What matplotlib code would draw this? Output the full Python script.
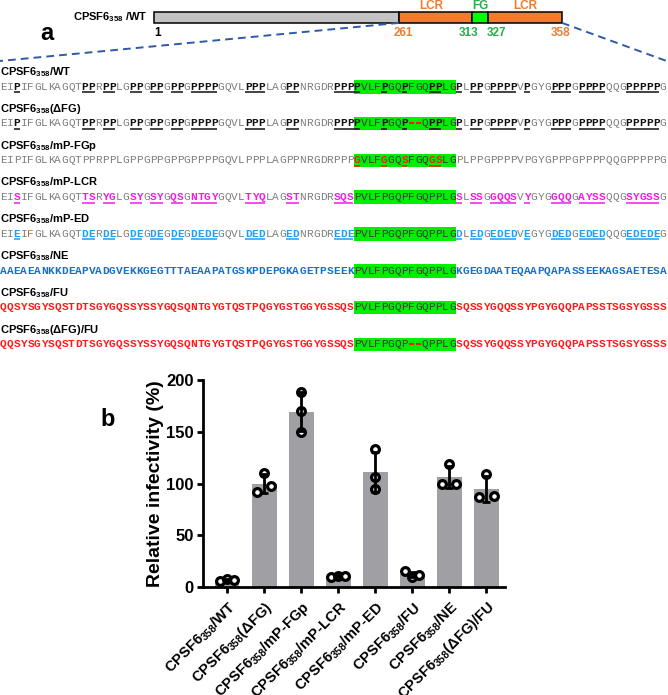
import numpy as np
import matplotlib
matplotlib.use("Agg")
import matplotlib.pyplot as plt
from matplotlib.patches import Rectangle

plt.rcParams['font.family'] = ['Liberation Sans', 'DejaVu Sans']

W, H, DPI = 668, 695, 100

# ---------------- data ----------------
domain_residues = [1, 261, 313, 327, 358]
domain_names = ['', 'LCR', 'FG', 'LCR']
seq_start_residue = 261

row_suffixes = ['/WT', '(ΔFG)', '/mP-FGp', '/mP-LCR', '/mP-ED', '/NE', '/FU', '(ΔFG)/FU']
row_sequences = [
    "EIPIFGLKAGQTPPRPPLGPPGPPGPPGPPPPGQVLPPPLAGPPNRGDRPPP" "PVLFPGQPFGQPPLG" "PLPPGPPPPVPGYGPPPGPPPPQQGPPPPPG",
    "EIPIFGLKAGQTPPRPPLGPPGPPGPPGPPPPGQVLPPPLAGPPNRGDRPPP" "PVLFPGQP--QPPLG" "PLPPGPPPPVPGYGPPPGPPPPQQGPPPPPG",
    "EIPIFGLKAGQTPPRPPLGPPGPPGPPGPPPPGQVLPPPLAGPPNRGDRPPP" "GVLFGGQSFGQGSLG" "PLPPGPPPPVPGYGPPPGPPPPQQGPPPPPG",
    "EISIFGLKAGQTTSRYGLGSYGSYGQSGNTGYGQVLTYQLAGSTNRGDRSQS" "PVLFPGQPFGQPPLG" "SLSSGGQQSVYGYGGQQGAYSSQQGSYGSSG",
    "EIEIFGLKAGQTDERDELGDEGDEGDEGDEDEGQVLDEDLAGEDNRGDREDE" "PVLFPGQPFGQPPLG" "DLEDGEDEDVEGYGDEDGEDEDQQGEDEDEG",
    "AAEAEANKKDEAPVADGVEKKGEGTTTAEAAPATGSKPDEPGKAGETPSEEK" "PVLFPGQPFGQPPLG" "KGEGDAATEQAAPQAPASSEEKAGSAETESA",
    "QQSYSGYSQSTDTSGYGQSSYSSYGQSQNTGYGTQSTPQGYGSTGGYGSSQS" "PVLFPGQPFGQPPLG" "SQSSYGQQSSYPGYGQQPAPSSTSGSYGSSS",
    "QQSYSGYSQSTDTSGYGQSSYSSYGQSQNTGYGTQSTPQGYGSTGGYGSSQS" "PVLFPGQP--QPPLG" "SQSSYGQQSSYPGYGQQPAPSSTSGSYGSSS",
]
row_modes = ['wt', 'wt', 'mut', 'mut', 'mut', 'full', 'full', 'full']
row_colors = ['#111111', '#111111', '#ff1a1a', '#ee1ee6', '#1e9ef5', '#1a6fc4', '#ff1a1a', '#ff1a1a']

bar_suffixes = ['/WT', '(ΔFG)', '/mP-FGp', '/mP-LCR', '/mP-ED', '/FU', '/NE', '(ΔFG)/FU']
replicates_pct = [
    [6, 8, 7],
    [92, 110, 98],
    [188, 170, 150],
    [10, 11, 11],
    [133, 106, 95],
    [15, 10, 12],
    [100, 119, 100],
    [87, 109, 88],
]
y_ticks = [0, 50, 100, 150, 200]

# ---------------- layout / style ----------------
ORANGE = '#ee7d31'
GREEN_TXT = '#1fb24a'
GREEN_BOX = '#00ee00'
GRAY_TXT = '#7d7d7d'
DARK_TXT = '#3a3a3a'
DASH_RED = '#ff1a1a'
SCHEM_KNOTS = [154, 399, 472, 488, 562]


def cpsf(suffix):
    return 'CPSF6$_{\\mathdefault{358}}$' + suffix


fig = plt.figure(figsize=(W / DPI, H / DPI), dpi=DPI)
ov = fig.add_axes([0, 0, 1, 1])
ov.set_xlim(0, W)
ov.set_ylim(H, 0)
ov.axis('off')

# ---- schematic ----
def sx(r):
    return float(np.interp(r, domain_residues, SCHEM_KNOTS))

box_top, box_bot = 11.7, 22.9
fills = ['#c3c3c3', ORANGE, '#00ff00', ORANGE]
for k in range(len(domain_names)):
    x0, x1 = sx(domain_residues[k]), sx(domain_residues[k + 1])
    ov.add_patch(Rectangle((x0, box_top), x1 - x0, box_bot - box_top,
                           fc=fills[k], ec='black', lw=1.1, zorder=2))
    if domain_names[k]:
        col = GREEN_TXT if domain_names[k] == 'FG' else ORANGE
        ov.text((x0 + x1) / 2 - (4 if domain_names[k] == 'LCR' and k == 1 else 0), 5.8,
                domain_names[k], color=col, ha='center', va='center',
                fontsize=8.5, fontweight='bold')

num_colors = ['black', ORANGE, GREEN_TXT, GREEN_TXT, ORANGE]
num_shift = [0, 4, -3, 9, -1.5]
for r, c, s in zip(domain_residues, num_colors, num_shift):
    ha = 'left' if r == 1 else 'center'
    ov.text(sx(r) + s, 32.5, str(r), color=c, ha=ha, va='center',
            fontsize=8.5, fontweight='bold')

ov.text(148, 17.3, 'CPSF6$_{\\mathdefault{358}}$ /WT', ha='right', va='center',
        fontsize=8, fontweight='bold')
ov.text(47, 33.5, 'a', ha='center', va='center', fontsize=17, fontweight='bold')

dash_col = '#2f5aa5'
ov.plot([sx(261), 0], [box_bot, 61], color=dash_col, lw=1.4, dashes=(4, 2.6))
ov.plot([sx(358), W], [box_bot, 61.5], color=dash_col, lw=1.4, dashes=(4, 2.6))

# ---- sequence rows ----
pitch_x = 6.8
row_pitch = 36.8
g0 = domain_residues[2] - seq_start_residue
g1 = domain_residues[3] - seq_start_residue + 1
wt_seq = row_sequences[0]

for i, (suf, seq, mode, col) in enumerate(zip(row_suffixes, row_sequences, row_modes, row_colors)):
    ly = 72 + row_pitch * i
    sy = 86 + row_pitch * i
    base = sy + 3.6
    ov.text(0, ly, cpsf(suf), ha='left', va='center', fontsize=8, fontweight='bold')
    ov.add_patch(Rectangle((g0 * pitch_x, base - 9.6), (g1 - g0) * pitch_x, 13.6,
                           fc=GREEN_BOX, ec='none', zorder=1))
    hl = []
    for j, ch in enumerate(seq):
        ingreen = g0 <= j < g1
        underline = False
        if ch == '-':
            ov.plot([j * pitch_x + 0.9, (j + 1) * pitch_x - 0.9], [base - 3.3, base - 3.3],
                    color=DASH_RED, lw=1.5, solid_capstyle='butt', zorder=3)
            hl.append(None)
            continue
        elif mode == 'wt':
            if ch == 'P':
                c, w, underline = col, 'bold', True
            else:
                c, w = (DARK_TXT if ingreen else GRAY_TXT), 'normal'
        elif mode == 'mut':
            if ch != wt_seq[j]:
                c, w, underline = col, 'bold', True
            else:
                c, w = (DARK_TXT if ingreen else GRAY_TXT), 'normal'
        else:
            if ingreen:
                c, w = DARK_TXT, 'normal'
            else:
                c, w = col, 'bold'
        ov.text((j + 0.5) * pitch_x, base, ch, ha='center', va='baseline',
                family='Liberation Mono', fontsize=8, color=c, fontweight=w, zorder=3)
        hl.append(c if underline else None)
    # underline runs
    j = 0
    while j < len(hl):
        if hl[j] is not None:
            k = j
            while k + 1 < len(hl) and hl[k + 1] == hl[j]:
                k += 1
            ov.plot([j * pitch_x + 0.6, (k + 1) * pitch_x - 0.6], [base + 2.6, base + 2.6],
                    color=hl[j], lw=1.1, solid_capstyle='butt', zorder=3)
            j = k + 1
        else:
            j += 1

# ---- bar chart ----
ax_l, ax_r, ax_t, ax_b = 203, 505, 380, 587
ax = fig.add_axes([ax_l / W, 1 - ax_b / H, (ax_r - ax_l) / W, (ax_b - ax_t) / H])
ax.patch.set_alpha(0)
x = np.arange(len(bar_suffixes))
means = np.array([np.mean(r) for r in replicates_pct])
sds = np.array([np.std(r, ddof=1) for r in replicates_pct])
ax.bar(x, means, width=0.67, color='#a0a0a4', zorder=1)


def swarm_offsets(vals, thresh=9.0, half=0.19):
    vals = np.asarray(vals, float)
    order = np.argsort(vals, kind='stable')
    clusters = [[order[0]]]
    for a, b in zip(order[:-1], order[1:]):
        if vals[b] - vals[a] < thresh:
            clusters[-1].append(b)
        else:
            clusters.append([b])
    off = np.zeros(len(vals))
    for cl in clusters:
        cl = sorted(cl)
        if len(cl) > 1:
            off[cl] = np.linspace(-half, half, len(cl))
    return off


for i, reps in enumerate(replicates_pct):
    off = swarm_offsets(reps)
    ax.plot(x[i] + off, reps, 'o', ms=5.6, mfc='white', mec='black', mew=2.3,
            ls='none', zorder=3, clip_on=False)
ax.errorbar(x, means, yerr=sds, fmt='none', ecolor='black', elinewidth=2.0,
            capsize=3.2, capthick=2.0, zorder=4)

ax.set_xlim(-0.65, 7.5)
ax.set_ylim(0, 200)
ax.set_yticks(y_ticks)
ax.set_yticklabels([str(t) for t in y_ticks], fontsize=12, fontweight='bold')
ax.set_xticks(x)
ax.set_xticklabels([cpsf(s) for s in bar_suffixes], rotation=45, ha='right',
                   rotation_mode='anchor', fontsize=10.5, fontweight='bold')
for s in ['top', 'right']:
    ax.spines[s].set_visible(False)
for s in ['left', 'bottom']:
    ax.spines[s].set_linewidth(2.0)
ax.tick_params(axis='both', width=2.0, length=4.5, direction='out', pad=2)
ax.tick_params(axis='x', pad=4)
ax.set_ylabel('Relative infectivity (%)', fontsize=14, fontweight='bold', labelpad=2)

ov.text(108, 419, 'b', ha='center', va='center', fontsize=17, fontweight='bold')

fig.savefig('out.png', dpi=DPI)
